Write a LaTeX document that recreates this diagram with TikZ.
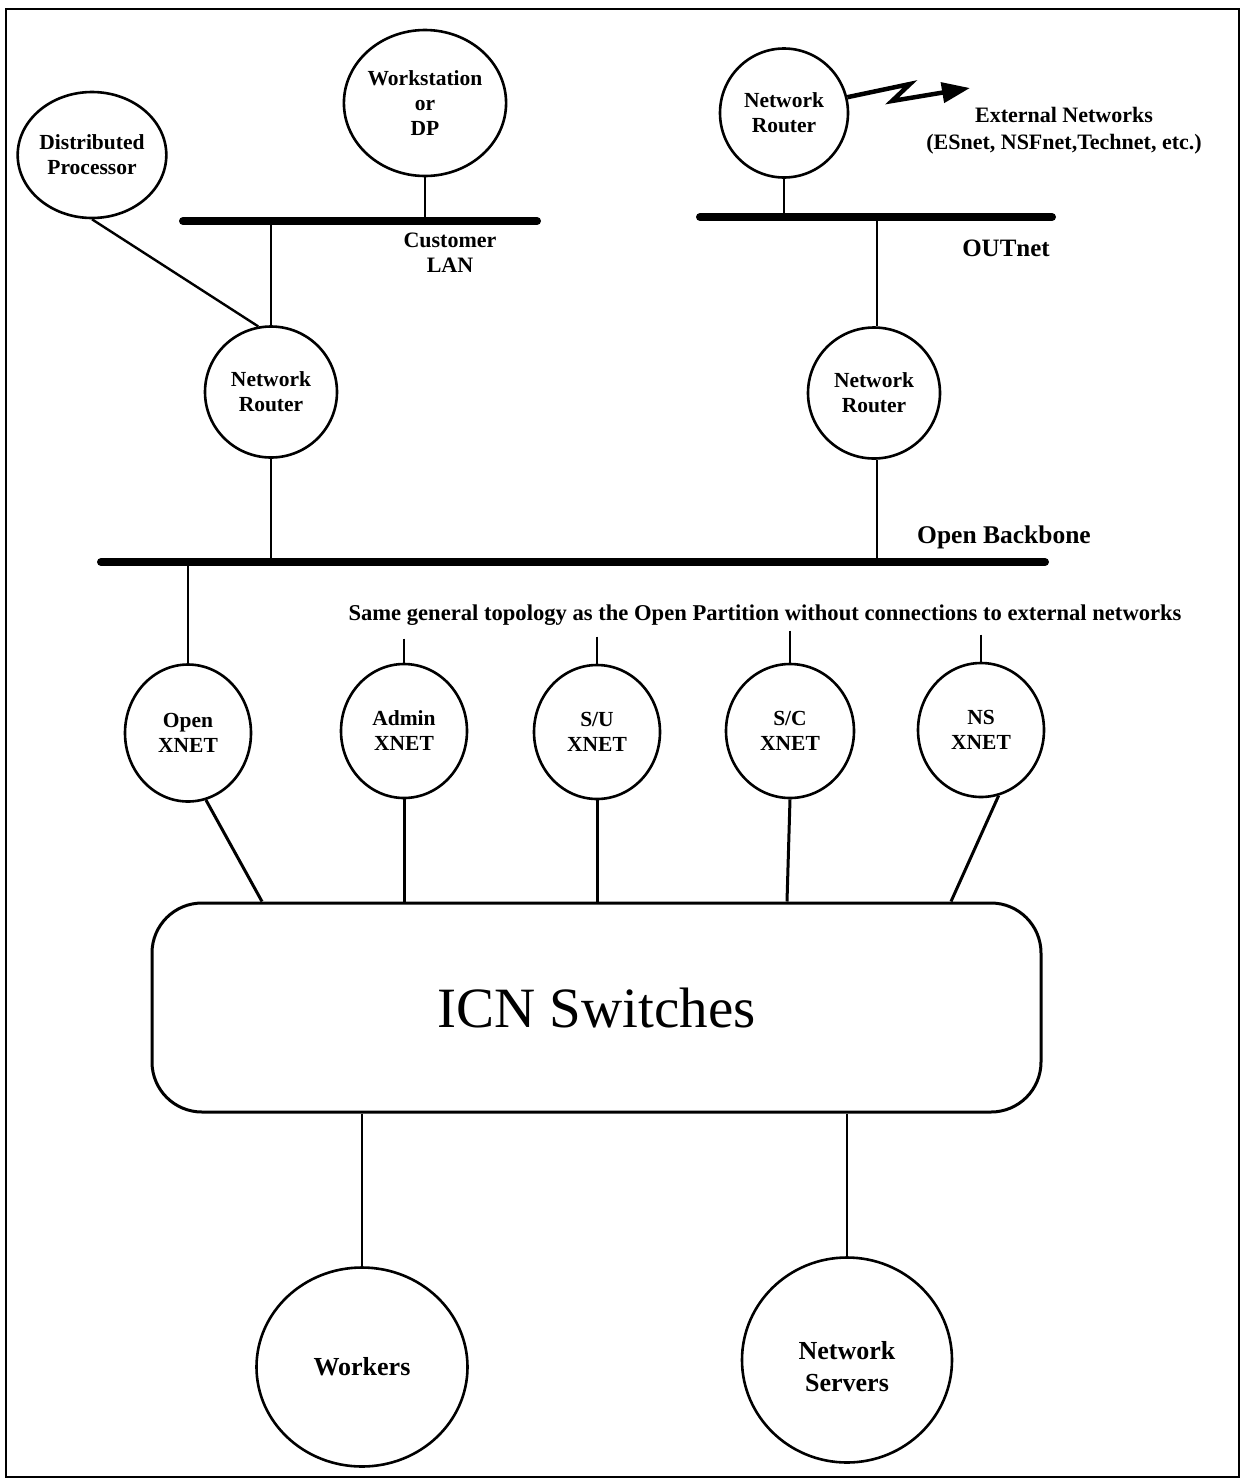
\documentclass[tikz,border=0pt]{standalone}
\usepackage{fontspec}
\setmainfont{Liberation Serif}
\usetikzlibrary{shapes.geometric,arrows.meta,calc}
\begin{document}
\begin{tikzpicture}[x=1pt,y=-1pt,
  dev/.style={ellipse,draw,line width=2.6pt,inner sep=0pt,align=center,
    font=\fontsize{21.5}{25}\selectfont\bfseries},
  bigdev/.style={dev,font=\fontsize{26}{32}\selectfont\bfseries},
  lbl/.style={align=center,inner sep=0pt,font=\fontsize{21.5}{25}\selectfont\bfseries},
  bus/.style={line width=8pt,line cap=round},
  link/.style={line width=1.8pt},
  heavy/.style={line width=3pt}]
\useasboundingbox (0,0) rectangle (1245,1484);
\draw[line width=2.2pt] (6,9) rectangle (1239,1477);

% devices
\node[dev,minimum width=130pt,minimum height=126pt] (dp) at (92,155) {Distributed\\Processor};
\node[dev,minimum width=154pt,minimum height=146pt] (ws) at (425,103) {Workstation\\or\\DP};
\node[dev,minimum width=128pt,minimum height=129pt] (rt) at (784,113) {Network\\Router};
\node[dev,minimum width=132pt,minimum height=131pt] (rl) at (271,392) {Network\\Router};
\node[dev,minimum width=132pt,minimum height=131pt] (rr) at (874,393) {Network\\Router};

\node[dev,minimum width=126pt,minimum height=137pt] (ox) at (188,733) {Open\\XNET};
\node[dev,minimum width=126pt,minimum height=134pt] (ax) at (404,731) {Admin\\XNET};
\node[dev,minimum width=126pt,minimum height=134pt] (su) at (597,732) {S/U\\XNET};
\node[dev,minimum width=128pt,minimum height=134pt] (sc) at (790,731) {S/C\\XNET};
\node[dev,minimum width=126pt,minimum height=134pt] (ns) at (981,730) {NS\\XNET};

\node[draw,rounded corners=50pt,line width=3pt,minimum width=889pt,minimum height=209pt,
  inner sep=0pt,font=\fontsize{57}{60}\selectfont] (icn) at (596.5,1007.5) {ICN Switches};

\node[bigdev,minimum width=211pt,minimum height=199pt] (wk) at (362,1367) {Workers};
\node[bigdev,minimum width=210pt,minimum height=205pt] (srv) at (847,1360) {};
\node[lbl,font=\fontsize{26}{32}\selectfont\bfseries] (srvtxt) at (847,1367) {Network\\Servers};

% buses
\coordinate (lanL) at (183,221); \coordinate (lanR) at (537,221);
\coordinate (outL) at (700,217); \coordinate (outR) at (1052,217);
\coordinate (bbL) at (101,562); \coordinate (bbR) at (1045,562);
\draw[bus] (lanL) -- (lanR);
\draw[bus] (outL) -- (outR);
\draw[bus] (bbL) -- (bbR);

% labels
\node[lbl,font=\fontsize{22}{25}\selectfont\bfseries] (lanlbl) at (450,253) {Customer\\LAN};
\node[lbl,font=\fontsize{25}{28}\selectfont\bfseries] (outlbl) at (1006,248) {OUTnet};
\node[lbl,font=\fontsize{25.5}{28}\selectfont\bfseries] (bblbl) at (1004,537) {Open Backbone};
\node[lbl,font=\fontsize{22}{27}\selectfont\bfseries] (ext) at (1064,131) {External Networks\\(ESnet, NSFnet,Technet, etc.)};
\node[lbl,font=\fontsize{22.6}{25}\selectfont\bfseries] (note) at (765,615) {Same general topology as the Open Partition without connections to external networks};

% connectors top
\draw[link] (ws.south) -- (ws.south |- lanL);
\draw[link] (rl.north |- lanL) -- (rl.north);
\draw[heavy,line width=2.4pt] (dp.south) -- (rl.101);
\draw[link] (rt.south) -- (rt.south |- outL);
\draw[link] ($(rr.north |- outL)+(3,0)$) -- ($(rr.north)+(3,0)$);
\draw[link] (rl.south) -- (rl.south |- bbL);
\draw[link] ($(rr.south)+(3,0)$) -- ($(rr.south |- bbL)+(3,0)$);

% zigzag to external networks
\coordinate (z1) at (910,84);
\coordinate (z2) at (892,101);
\coordinate (zt) at (970,88);
\draw[line width=4.5pt,line join=miter,-{Triangle[length=28pt,width=20pt]}] (rt.14) -- (z1) -- (z2) -- (zt);

% XNET stubs
\draw[link] (ox.north |- bbL) -- (ox.north);
\path (ax.north) ++(0,-24) coordinate (axt);
\path (su.north) ++(0,-27) coordinate (sut);
\path (sc.north) ++(0,-32) coordinate (sct);
\path (ns.north) ++(0,-27) coordinate (nst);
\draw[link] (axt) -- (ax.north);
\draw[link] (sut) -- (su.north);
\draw[link] (sct) -- (sc.north);
\draw[link] (nst) -- (ns.north);

% XNET to ICN
\draw[heavy] (ox.-75) -- ($(icn.north)+(-334.5,0)$);
\draw[heavy] (ax.south) -- (ax.south |- icn.north);
\draw[heavy] (su.south) -- (su.south |- icn.north);
\draw[heavy] (sc.south) -- ($(sc.south |- icn.north)+(-3,0)$);
\draw[heavy] (ns.-75) -- ($(icn.north)+(354.5,0)$);

% ICN to bottom
\draw[link] (wk.north |- icn.south) -- (wk.north);
\draw[link] (srv.north |- icn.south) -- (srv.north);
\end{tikzpicture}
\end{document}
